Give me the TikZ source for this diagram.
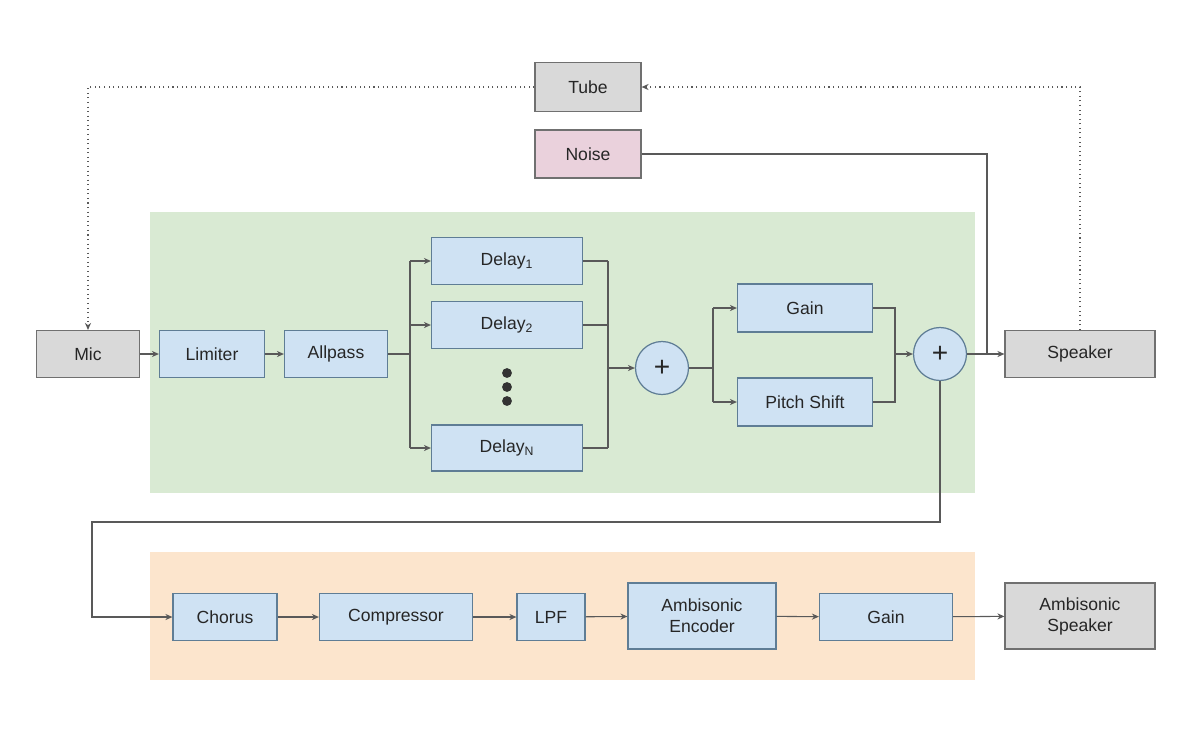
\documentclass[tikz,border=0pt]{standalone}
\usepackage{fontspec}
\setmainfont{Liberation Sans}
\usetikzlibrary{arrows.meta}
\definecolor{bfill}{HTML}{CFE2F3}
\definecolor{bdraw}{HTML}{5F7D95}
\definecolor{gfill}{HTML}{D9D9D9}
\definecolor{gdraw}{HTML}{707070}
\definecolor{pfill}{HTML}{EAD1DC}
\definecolor{greenbg}{HTML}{D9EAD3}
\definecolor{orangebg}{HTML}{FCE5CD}
\definecolor{ln}{HTML}{595959}
\begin{document}
\begin{tikzpicture}[x=0.02cm,y=-0.02cm,
  every node/.style={font=\fontsize{10}{12}\selectfont, text=black!85},
  blk/.style={draw=bdraw, fill=bfill, line width=0.7pt, inner sep=1pt, align=center},
  gblk/.style={draw=gdraw, fill=gfill, line width=0.7pt, inner sep=1pt, align=center},
  pblk/.style={draw=gdraw, fill=pfill, line width=0.7pt, inner sep=1pt},
  sumnode/.style={circle, draw=bdraw, fill=bfill, line width=0.7pt, minimum size=1.06cm, inner sep=0pt, font=\fontsize{16}{16}\selectfont},
  conn/.style={draw=ln, line width=0.6pt},
  arr/.style={conn, -{Stealth[length=4pt,width=3.5pt]}},
  dot/.style={draw=ln, line width=0.6pt, dotted},
  darr/.style={dot, -{Stealth[length=4pt,width=3.5pt]}}]
\useasboundingbox (0,0) rectangle (1200,741);
\fill[greenbg] (150,212) rectangle (975,493);
\fill[orangebg] (150,552) rectangle (975,680);
\node[gblk, minimum width=2.12cm, minimum height=0.98cm] (tube) at (588,87) {Tube};
\node[pblk, minimum width=2.12cm, minimum height=0.96cm] (noise) at (588,154) {Noise};
\node[gblk, minimum width=2.06cm, minimum height=0.94cm] (mic) at (88,354) {Mic};
\node[blk, minimum width=2.1cm, minimum height=0.94cm] (lim) at (212,354) {Limiter};
\node[blk, minimum width=2.06cm, minimum height=0.94cm] (all) at (336,354) {Allpass};
\node[blk, minimum width=3.02cm, minimum height=0.94cm] (d1) at (507,261) {Delay\textsubscript{1}};
\node[blk, minimum width=3.02cm, minimum height=0.94cm] (d2) at (507,325) {Delay\textsubscript{2}};
\node[blk, minimum width=3.02cm, minimum height=0.92cm] (dn) at (507,448) {Delay\textsubscript{N}};
\foreach \yy in {373,387,401} \fill[black!80] (507,\yy) circle (2.8pt);
\node[sumnode] (p1) at (662,368) {+};
\node[blk, minimum width=2.7cm, minimum height=0.96cm] (gain) at (805,308) {Gain};
\node[blk, minimum width=2.7cm, minimum height=0.96cm] (pitch) at (805,402) {Pitch Shift};
\node[sumnode] (p2) at (940,354) {+};
\node[gblk, minimum width=3cm, minimum height=0.94cm] (spk) at (1080,354) {Speaker};
\node[blk, minimum width=2.08cm, minimum height=0.94cm] (cho) at (225,617) {Chorus};
\node[blk, minimum width=3.06cm, minimum height=0.94cm] (comp) at (396,617) {Compressor};
\node[blk, minimum width=1.36cm, minimum height=0.94cm] (lpf) at (551,617) {LPF};
\node[blk, minimum width=2.96cm, minimum height=1.32cm] (enc) at (702,616) {Ambisonic\\Encoder};
\node[blk, minimum width=2.66cm, minimum height=0.94cm] (g2) at (886,617) {Gain};
\node[gblk, minimum width=3cm, minimum height=1.32cm] (aspk) at (1080,616) {Ambisonic\\Speaker};
\coordinate (sx) at (410,354);
\coordinate (jx) at (608,368);
\coordinate (gx) at (713,368);
\coordinate (mx) at (895,354);
\coordinate (nj) at (987,354);
% dotted feedback
\draw[darr] (spk.north) |- (tube.east);
\draw[darr] (tube.west) -| (mic.north);
% noise
\draw[conn] (noise.east) -| (nj);
% main chain
\draw[arr] (mic) -- (lim);
\draw[arr] (lim) -- (all);
\draw[conn] (all.east) -- (sx);
\draw[conn] (sx |- d1.west) -- (sx |- dn.west);
\draw[conn] (jx |- d1.east) -- (jx |- dn.east);
\foreach \d in {d1,d2,dn} {
  \draw[arr] (sx |- \d.west) -- (\d.west);
  \draw[conn] (\d.east) -- (jx |- \d.east);
}
\draw[arr] (jx) -- (p1.west);
\draw[conn] (p1.east) -- (gx);
\draw[conn] (gx |- gain.west) -- (gx |- pitch.west);
\draw[arr] (gx |- gain.west) -- (gain.west);
\draw[arr] (gx |- pitch.west) -- (pitch.west);
\draw[conn] (gain.east) -| (mx |- pitch.east) -- (pitch.east);
\draw[arr] (mx) -- (p2.west);
\draw[arr] (p2.east) -- (spk.west);
% down to lower chain
\coordinate (c1) at (940,522);
\coordinate (c2) at (92,522);
\draw[arr] (p2.south) -- (c1) -- (c2) |- (cho.west);
\draw[arr] (cho) -- (comp);
\draw[arr] (comp) -- (lpf);
\draw[arr] (lpf) -- (enc);
\draw[arr] (enc) -- (g2);
\draw[arr] (g2) -- (aspk);
\end{tikzpicture}
\end{document}
